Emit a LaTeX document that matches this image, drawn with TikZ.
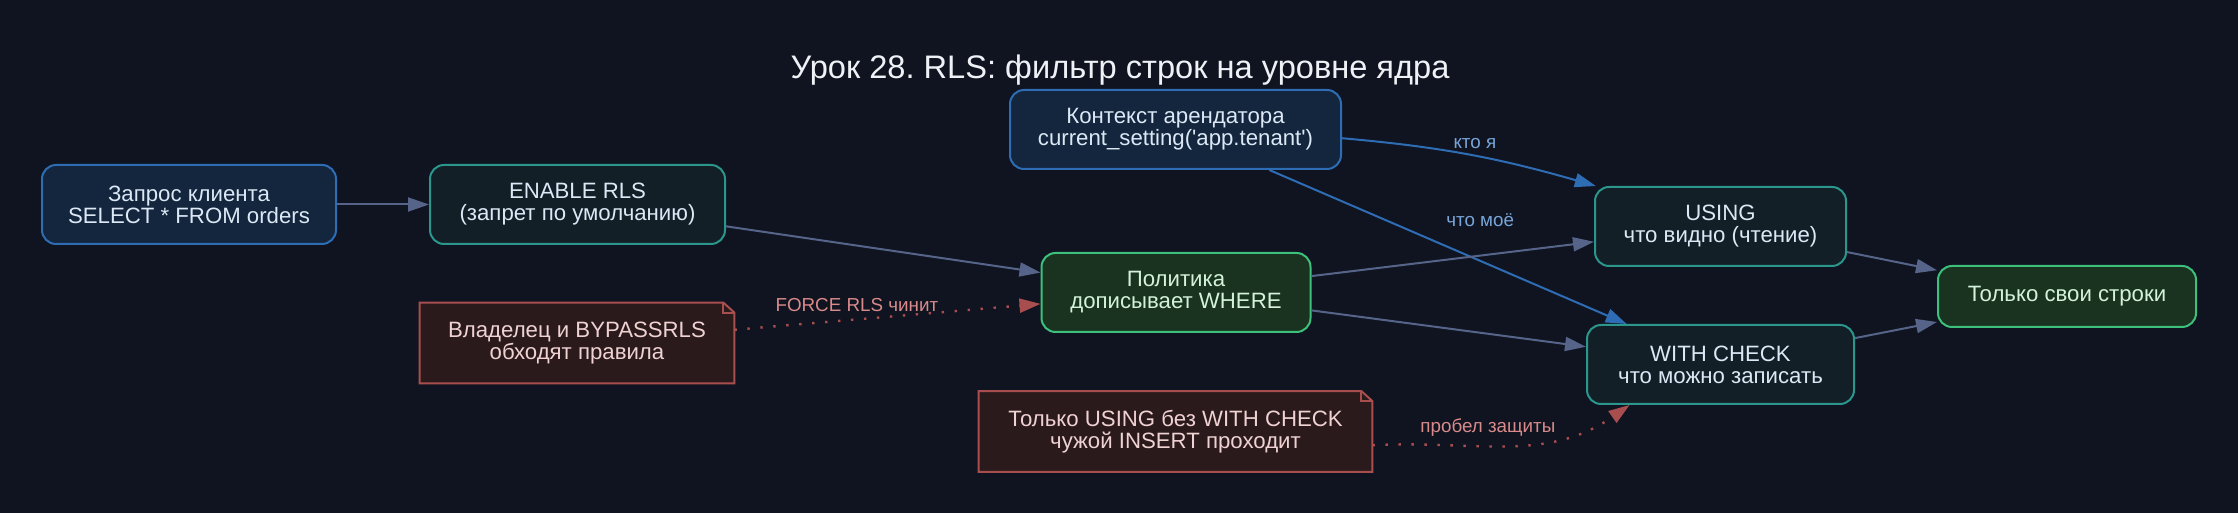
\documentclass[tikz,border=0pt]{standalone}
\usepackage{fontspec}
\setmainfont{Liberation Sans}
\usepackage{tikz}
\usetikzlibrary{arrows.meta}
\frenchspacing

\definecolor{paperbg}{HTML}{0F1420}
\definecolor{clientfill}{HTML}{13263D}
\definecolor{clientline}{HTML}{2E6DB4}
\definecolor{rulefill}{HTML}{131F27}
\definecolor{ruleline}{HTML}{2A968C}
\definecolor{goodfill}{HTML}{1A3321}
\definecolor{goodline}{HTML}{3DC07C}
\definecolor{warnfill}{HTML}{2A1A1B}
\definecolor{warnline}{HTML}{A84E4E}
\definecolor{flowline}{HTML}{56648A}
\definecolor{nodetext}{HTML}{DCE8F5}
\definecolor{goodtext}{HTML}{D4F2DA}
\definecolor{warntext}{HTML}{F0D2D2}
\definecolor{tenantlabel}{HTML}{79A6DA}
\definecolor{warnlabel}{HTML}{D98A8A}
\definecolor{titletext}{HTML}{EEF2F6}

\pgfdeclarelayer{paper}
\pgfdeclarelayer{notes}
\pgfsetlayers{paper,notes,main}

\begin{document}
\begin{tikzpicture}[x=0.5pt, y=0.5pt,
    box/.style={rectangle, rounded corners=7pt, line width=1pt, align=center, inner sep=0pt, minimum height=39.5pt, font=\fontsize{11.1}{11}\selectfont},
    client/.style={box, fill=clientfill, draw=clientline, text=nodetext},
    rule/.style={box, fill=rulefill, draw=ruleline, text=nodetext},
    good/.style={box, fill=goodfill, draw=goodline, text=goodtext},
    warn/.style={rectangle, inner sep=0pt, minimum height=40pt, align=center, text=warntext, font=\fontsize{11.1}{11}\selectfont},
    notebox/.style={fill=warnfill, draw=warnline, line width=1pt},
    flow/.style={draw=flowline, line width=1pt, -{Triangle[length=10.5pt,width=7pt]}},
    tenantflow/.style={flow, draw=clientline},
    leak/.style={flow, draw=warnline, line width=1.2pt, dash pattern=on 1.2pt off 5.3pt},
    lbl/.style={font=\fontsize{9.4}{10}\selectfont, inner sep=1pt}]

    \begin{pgfonlayer}{paper}
        \fill[paperbg] (0,0) rectangle (2238,513);
    \end{pgfonlayer}
    \useasboundingbox (0,0) rectangle (2238,513);

    \node[font=\fontsize{16.3}{18}\selectfont, text=titletext] (title) at (1120,443) {Урок 28. RLS: фильтр строк на уровне ядра};

    \node[client, minimum width=147pt] (query) at (189,308.5) {Запрос клиента\\SELECT * FROM orders};
    \node[rule, minimum width=147.5pt] (enable) at (577.5,308.5) {ENABLE RLS\\(запрет по умолчанию)};
    \node[client, minimum width=165.5pt] (tenant) at (1175.5,383.5) {Контекст арендатора\\current\_setting(\textquotesingle app.tenant\textquotesingle)};
    \node[good, minimum width=134.5pt] (policy) at (1176,220.5) {Политика\\дописывает WHERE};
    \node[rule, minimum width=125.5pt] (using) at (1720.5,286.5) {USING\\что видно (чтение)};
    \node[rule, minimum width=133.5pt] (check) at (1720.5,148.5) {WITH CHECK\\что можно записать};
    \node[good, minimum width=129pt, minimum height=30.5pt] (rows) at (2067,216.5) {Только свои строки};
    \node[warn, minimum width=157pt] (owner) at (577,170) {Владелец и BYPASSRLS\\обходят правила};
    \node[warn, minimum width=196.5pt] (gap) at (1175.5,81.5) {Только USING без WITH CHECK\\чужой INSERT проходит};

    \begin{pgfonlayer}{notes}
        \foreach \n in {owner,gap} {
            \filldraw[notebox] (\n.south west) -- (\n.north west) -- ([xshift=-5.5pt]\n.north east) -- ([yshift=-5pt]\n.north east) -- (\n.south east) -- cycle;
            \draw[notebox, fill=none] ([xshift=-5.5pt]\n.north east) |- ([yshift=-5pt]\n.north east);
        }
    \end{pgfonlayer}

    \draw[flow] (query) -- (enable);
    \draw[flow] (enable) -- (policy);
    \draw[tenantflow] (tenant.-3) to[out=-5, in=164] node[lbl, text=tenantlabel, pos=0.52, above=2pt] {кто я} (using.162);
    \draw[tenantflow] (tenant) -- node[lbl, text=tenantlabel, pos=0.59, yshift=20.5pt] {что моё} (check);
    \draw[flow] (policy) -- (using);
    \draw[flow] (policy) -- (check);
    \draw[flow] (using) -- (rows);
    \draw[flow] (check) -- (rows);
    \draw[leak] (owner) -- node[lbl, text=warnlabel, pos=0.4, yshift=7.4pt] {FORCE RLS чинит} (policy);
    \draw[leak] (gap.-4) to[out=3, in=-145] node[lbl, text=warnlabel, pos=0.42, above=3pt] {пробел защиты} (check.-156);
\end{tikzpicture}
\end{document}
